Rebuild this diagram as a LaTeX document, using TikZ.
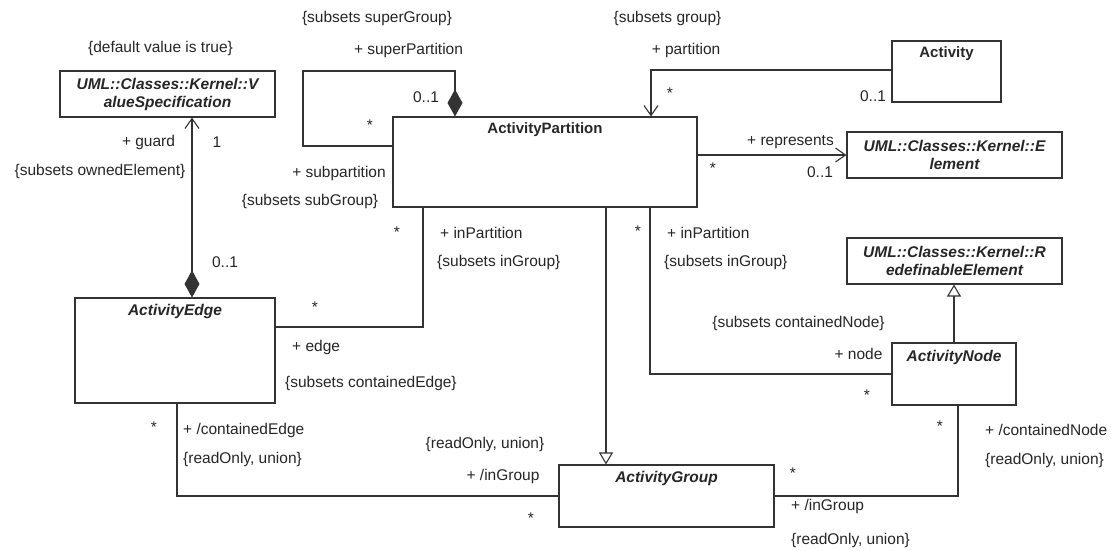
\documentclass[tikz,border=0pt]{standalone}
\usepackage{fontspec}
\setmainfont{Liberation Sans}
\usetikzlibrary{arrows.meta}
\begin{document}
\begin{tikzpicture}[x=1pt,y=-1pt,
  every node/.style={inner sep=0pt, text=black!85, font=\fontsize{15.5}{18}\selectfont},
  classbox/.style={draw=black!80, line width=1.1pt, fill=white, rectangle},
  title/.style={font=\fontsize{15}{18}\selectfont\bfseries},
  ititle/.style={font=\fontsize{15.5}{18}\selectfont\bfseries\itshape},
  conn/.style={draw=black!80, line width=1.1pt},
  navi/.style={-{Straight Barb[length=10pt,width=14pt]}},
  compo/.style={-{Diamond[length=27pt,width=15pt]}},
  gener/.style={-{Triangle[open,fill=white,length=12pt,width=14pt]}}]

\useasboundingbox[fill=white] (0,0) rectangle (1111,550);

% classes
\node[classbox, ititle, align=center, minimum width=215pt, minimum height=46pt] (vs) at (167.5,94)
  {UML::Classes::Kernel::V\\alueSpecification};
\node[classbox, minimum width=304pt, minimum height=90pt] (ap) at (545,162) {};
\node[title] (apT) at ([yshift=-13pt]ap.north) {ActivityPartition};
\node[classbox, minimum width=109pt, minimum height=61pt] (act) at (946.5,71.5) {};
\node[title] (actT) at ([yshift=-13pt]act.north) {Activity};
\node[classbox, ititle, align=center, minimum width=215pt, minimum height=46pt] (el) at (954.5,155)
  {UML::Classes::Kernel::E\\lement};
\node[classbox, ititle, align=center, minimum width=215pt, minimum height=46pt] (re) at (954.5,261)
  {UML::Classes::Kernel::R\\edefinableElement};
\node[classbox, minimum width=200pt, minimum height=105pt] (ae) at (175,350.5) {};
\node[ititle] (aeT) at ([yshift=-14pt]ae.north) {ActivityEdge};
\node[classbox, minimum width=124pt, minimum height=62pt] (an) at (954,374) {};
\node[ititle] (anT) at ([yshift=-15pt]an.north) {ActivityNode};
\node[classbox, minimum width=215pt, minimum height=62pt] (ag) at (666.5,496) {};
\node[ititle] (agT) at ([yshift=-14pt]ag.north) {ActivityGroup};

% bend point of the superPartition self association
\coordinate (loopc) at (303,71);

% associations
\draw[conn, {Diamond[length=27pt,width=15pt]}-{Straight Barb[length=10pt,width=14pt]}]
  ([xshift=17pt]ae.north) -- ([xshift=17pt]ae.north |- vs.south);
\draw[conn, compo] ([yshift=16pt]ap.west) -| (loopc) -| ([xshift=-90pt]ap.north);
\draw[conn, navi] ([yshift=1.5pt]act.west) -| ([xshift=106pt]ap.north);
\draw[conn, navi] (ap.east |- el.west) -- (el.west);
\draw[conn] ([yshift=23.5pt]ae.east) -| ([xshift=-122pt]ap.south);
\draw[conn] ([xshift=105pt]ap.south) |- (an.west);
\draw[conn] ([xshift=2pt]ae.south) |- (ag.west);
\draw[conn] ([xshift=4pt]an.south) |- (ag.east);

% generalizations
\draw[conn, gener] ([xshift=61pt]ap.south) -- ([xshift=61pt]ap.south |- ag.north);
\draw[conn, gener] (an.north) -- (an.north |- re.south);

% role names, constraints and multiplicities
\node (l1) at (160.5,48) {\{default value is true\}};
\node (l2) at (377,18) {\{subsets superGroup\}};
\node (l3) at (408.5,50) {+ superPartition};
\node (l4) at (667.5,18) {\{subsets group\}};
\node (l5) at (686,50) {+ partition};
\node (m1) at (426,97) {0..1};
\node (m2) at (370,125) {*};
\node (m3) at (670,93) {*};
\node (m4) at (873,96) {0..1};
\node (l6) at (790.5,142) {+ represents};
\node (m5) at (713,168) {*};
\node (m6) at (820,172) {0..1};
\node (l7) at (148.5,142) {+ guard};
\node (m7) at (217,142) {1};
\node (l8) at (100,171) {\{subsets ownedElement\}};
\node (l9) at (339,173) {+ subpartition};
\node (l10) at (310,201) {\{subsets subGroup\}};
\node (m8) at (397,232) {*};
\node[anchor=west] (l11) at (440,233) {+ inPartition};
\node[anchor=west] (l12) at (437,262) {\{subsets inGroup\}};
\node (m9) at (638,231) {*};
\node[anchor=west] (l13) at (667,233) {+ inPartition};
\node[anchor=west] (l14) at (664,262) {\{subsets inGroup\}};
\node (m10) at (225,262) {0..1};
\node (m11) at (315,307) {*};
\node[anchor=west] (l15) at (292,347) {+ edge};
\node[anchor=west] (l16) at (285,383) {\{subsets containedEdge\}};
\node (l17) at (798.5,323) {\{subsets containedNode\}};
\node (l18) at (858.5,354) {+ node};
\node (m12) at (867,395) {*};
\node (m13) at (154,427) {*};
\node[anchor=west] (l19) at (183,430) {+ /containedEdge};
\node[anchor=west] (l20) at (183,459) {\{readOnly, union\}};
\node (l21) at (485,444) {\{readOnly, union\}};
\node (l22) at (503,476) {+ /inGroup};
\node (m14) at (531,518) {*};
\node (m15) at (940,426) {*};
\node[anchor=west] (l23) at (985,430) {+ /containedNode};
\node[anchor=west] (l24) at (985,460) {\{readOnly, union\}};
\node (m16) at (793,473) {*};
\node[anchor=west] (l25) at (791,506) {+ /inGroup};
\node[anchor=west] (l26) at (791,540) {\{readOnly, union\}};
\end{tikzpicture}
\end{document}
